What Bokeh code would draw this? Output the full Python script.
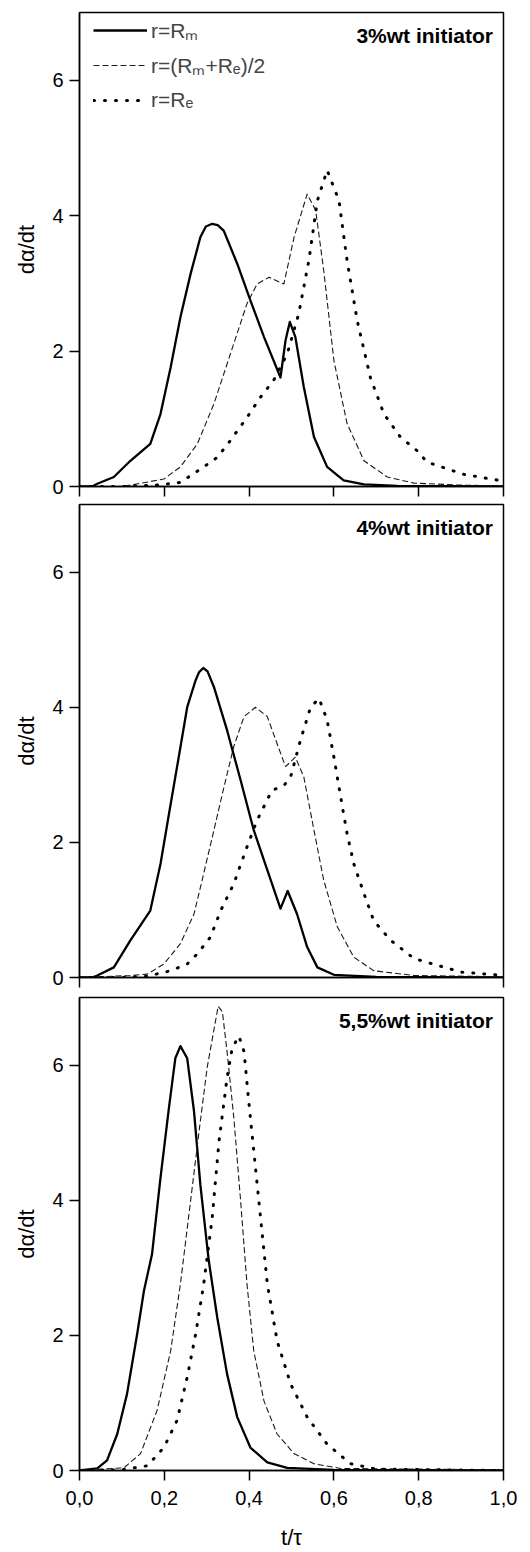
from bokeh.plotting import figure
from bokeh.layouts import column
from bokeh.models import (FixedTicker, Label, Legend, LegendItem, Range1d,
                          CustomJSTickFormatter, CustomLabelingPolicy)
from bokeh.embed import file_html
from bokeh.resources import INLINE

FONT = "Liberation Sans"

# ---------------- data ----------------
series_labels = ["r=Rₘ", "r=(Rₘ+Rₑ)/2", "r=Rₑ"]
panel_titles = ["3%wt initiator", "4%wt initiator", "5,5%wt initiator"]
x_ticks = [0.0, 0.2, 0.4, 0.6, 0.8, 1.0]
y_ticks = [0, 2, 4, 6]
x_axis_title = "t/τ"
y_axis_title = "dα/dt"

# 3 %wt initiator
t1_solid = [0.0, 0.03, 0.042, 0.081, 0.120, 0.167, 0.191, 0.215, 0.238, 0.262, 0.285, 0.298, 0.313, 0.326,
            0.340, 0.372, 0.403, 0.435, 0.474, 0.486, 0.496, 0.509, 0.529, 0.553, 0.584, 0.623, 0.671, 0.75, 1.0]
v1_solid = [0.0, 0.0, 0.04, 0.14, 0.38, 0.63, 1.07, 1.76, 2.50, 3.14, 3.68, 3.84, 3.88, 3.86,
            3.78, 3.29, 2.75, 2.21, 1.61, 2.16, 2.43, 2.21, 1.47, 0.73, 0.29, 0.09, 0.03, 0.01, 0.0]
t1_dash = [0.0, 0.1, 0.120, 0.199, 0.238, 0.278, 0.317, 0.356, 0.395, 0.419, 0.447, 0.482, 0.506, 0.537,
           0.557, 0.576, 0.600, 0.631, 0.671, 0.726, 0.789, 0.9, 1.0]
v1_dash = [0.0, 0.0, 0.02, 0.11, 0.29, 0.63, 1.22, 1.96, 2.70, 2.99, 3.09, 2.99, 3.68, 4.32,
           4.08, 3.19, 1.86, 0.93, 0.38, 0.14, 0.05, 0.02, 0.01]
t1_dot = [0.0, 0.1, 0.18, 0.238, 0.293, 0.325, 0.356, 0.395, 0.427, 0.458, 0.490, 0.517, 0.541, 0.561,
          0.584, 0.612, 0.631, 0.655, 0.686, 0.718, 0.757, 0.796, 0.82, 0.906, 1.0]
v1_dot = [0.0, 0.0, 0.02, 0.06, 0.29, 0.43, 0.68, 1.02, 1.32, 1.57, 1.96, 2.55, 3.34, 4.22,
          4.67, 4.22, 3.34, 2.45, 1.61, 1.07, 0.73, 0.53, 0.36, 0.18, 0.08]

# 4 %wt initiator
t2_solid = [0.0, 0.03, 0.042, 0.081, 0.120, 0.167, 0.191, 0.211, 0.234, 0.254, 0.274, 0.282, 0.292, 0.302,
            0.317, 0.348, 0.380, 0.411, 0.443, 0.474, 0.491, 0.513, 0.537, 0.561, 0.600, 0.7, 1.0]
v2_solid = [0.0, 0.0, 0.03, 0.15, 0.55, 0.99, 1.68, 2.42, 3.26, 4.00, 4.40, 4.52, 4.58, 4.53,
            4.30, 3.66, 2.92, 2.18, 1.59, 1.02, 1.28, 0.94, 0.45, 0.15, 0.04, 0.01, 0.0]
t2_dash = [0.0, 0.120, 0.160, 0.199, 0.238, 0.270, 0.293, 0.317, 0.340, 0.364, 0.388, 0.415, 0.443, 0.466,
           0.486, 0.509, 0.529, 0.553, 0.576, 0.608, 0.647, 0.694, 0.789, 1.0]
v2_dash = [0.0, 0.03, 0.05, 0.20, 0.50, 0.94, 1.54, 2.18, 2.80, 3.42, 3.86, 4.00, 3.86, 3.46,
           3.12, 3.26, 2.97, 2.18, 1.44, 0.75, 0.30, 0.10, 0.03, 0.01]
t2_dot = [0.0, 0.1, 0.160, 0.215, 0.254, 0.278, 0.309, 0.333, 0.364, 0.392, 0.419, 0.454, 0.482, 0.498,
          0.521, 0.545, 0.565, 0.584, 0.600, 0.616, 0.631, 0.647, 0.671, 0.694, 0.734, 0.789, 0.9, 1.0]
v2_dot = [0.0, 0.0, 0.02, 0.10, 0.20, 0.35, 0.60, 0.99, 1.39, 1.88, 2.33, 2.77, 2.84, 2.97,
          3.51, 4.00, 4.13, 3.81, 3.26, 2.67, 2.13, 1.68, 1.24, 0.84, 0.55, 0.28, 0.08, 0.03]

# 5,5 %wt initiator
t3_solid = [0.0, 0.042, 0.065, 0.089, 0.112, 0.136, 0.152, 0.171, 0.191, 0.211, 0.226, 0.238, 0.254, 0.270,
            0.285, 0.305, 0.325, 0.348, 0.372, 0.403, 0.443, 0.490, 0.6, 1.0]
v3_solid = [0.0, 0.03, 0.15, 0.54, 1.13, 2.02, 2.66, 3.20, 4.33, 5.37, 6.10, 6.28, 6.10, 5.32,
            4.23, 3.10, 2.26, 1.43, 0.79, 0.34, 0.12, 0.04, 0.01, 0.0]
t3_dash = [0.0, 0.105, 0.144, 0.183, 0.215, 0.238, 0.262, 0.281, 0.301, 0.327, 0.337, 0.348, 0.364, 0.380,
           0.395, 0.411, 0.435, 0.466, 0.506, 0.553, 0.616, 1.0]
v3_dash = [0.0, 0.04, 0.25, 0.89, 1.77, 2.76, 3.99, 4.97, 5.96, 6.87, 6.79, 6.20, 5.22, 3.99,
           2.76, 1.77, 1.03, 0.54, 0.25, 0.10, 0.03, 0.01]
t3_dot = [0.0, 0.1, 0.160, 0.199, 0.230, 0.254, 0.274, 0.293, 0.313, 0.329, 0.348, 0.360, 0.376, 0.388,
          0.399, 0.411, 0.427, 0.443, 0.466, 0.498, 0.537, 0.584, 0.639, 0.7, 1.0]
v3_dot = [0.0, 0.01, 0.07, 0.34, 0.74, 1.38, 2.02, 2.76, 3.74, 4.87, 5.81, 6.25, 6.43, 6.20,
          5.47, 4.73, 3.74, 2.76, 1.92, 1.28, 0.79, 0.39, 0.10, 0.02, 0.0]

panels = [
    (t1_solid, v1_solid, t1_dash, v1_dash, t1_dot, v1_dot),
    (t2_solid, v2_solid, t2_dash, v2_dash, t2_dot, v2_dot),
    (t3_solid, v3_solid, t3_dash, v3_dash, t3_dot, v3_dot),
]

# ---------------- figures ----------------
sizes = [(500, 12, 14), (492, 4, 15), (560, 5, 82)]
xtick_sets = [x_ticks, [0.0, 1.0], x_ticks]

figs = []
for i, (data, (h, top, bottom)) in enumerate(zip(panels, sizes)):
    p = figure(width=530, height=h, x_range=Range1d(0, 1), y_range=Range1d(0, 7),
               output_backend="svg", toolbar_location=None,
               min_border_left=79, min_border_right=27,
               min_border_top=top, min_border_bottom=bottom)
    p.xgrid.visible = False
    p.ygrid.visible = False
    p.outline_line_color = "black"
    p.outline_line_width = 1.5
    p.outline_line_alpha = 1.0
    p.background_fill_color = "white"
    p.border_fill_color = "white"

    for ax in (p.xaxis[0], p.yaxis[0]):
        ax.axis_line_color = "black"
        ax.axis_line_width = 1.5
        ax.major_tick_line_color = "black"
        ax.major_tick_line_width = 1.5
        ax.major_tick_out = 10
        ax.major_tick_in = 0
        ax.minor_tick_line_color = None
        ax.major_label_text_font = FONT
        ax.major_label_text_font_size = "20px"
        ax.major_label_text_color = "black"
        ax.axis_label_text_font = FONT
        ax.axis_label_text_font_size = "22px"
        ax.axis_label_text_font_style = "normal"
        ax.axis_label_text_color = "black"

    p.yaxis.ticker = FixedTicker(ticks=y_ticks)
    p.yaxis.axis_label = y_axis_title
    p.yaxis.major_label_standoff = 6
    p.yaxis.axis_label_standoff = 10

    p.xaxis.ticker = FixedTicker(ticks=xtick_sets[i])
    p.xaxis.formatter = CustomJSTickFormatter(code="return tick.toFixed(1).replace('.', ',');")
    if i < 2:
        # ticks only, no labels (as in the reference)
        p.xaxis.major_label_policy = CustomLabelingPolicy(code="return new Set()")
        p.xaxis.major_label_text_font_size = "1px"
        p.xaxis.major_label_standoff = 0
    else:
        p.xaxis.major_label_standoff = 10
        p.xaxis.axis_label = x_axis_title
        p.xaxis.axis_label_text_font_size = "22px"
        p.xaxis.axis_label_standoff = 17

    ts, vs, td, vd, tp, vp = data
    r_solid = p.line(ts, vs, line_color="black", line_width=2.3, line_join="round")
    r_dash = p.line(td, vd, line_color="#1a1a1a", line_width=1.1, line_dash="6 3")
    r_dot = p.line(tp, vp, line_color="black", line_width=3.0, line_dash="1 10", line_cap="round")

    p.add_layout(Label(x=0.975, y=6.66, text=panel_titles[i], text_align="right",
                       text_baseline="middle", text_font=FONT, text_font_size="21px",
                       text_font_style="bold", text_color="black"))

    if i == 0:
        legend = Legend(items=[LegendItem(label=series_labels[0], renderers=[r_solid]),
                               LegendItem(label=series_labels[1], renderers=[r_dash]),
                               LegendItem(label=series_labels[2], renderers=[r_dot])],
                        location=(14, 371), border_line_color=None, background_fill_alpha=0,
                        glyph_width=54, glyph_height=30, label_height=30, label_text_font=FONT,
                        label_text_font_size="21px", label_standoff=4, spacing=5,
                        padding=0, margin=0)
        p.add_layout(legend)
    figs.append(p)

layout = column(*figs, spacing=0)
open("out.html", "w").write(file_html(layout, INLINE))
